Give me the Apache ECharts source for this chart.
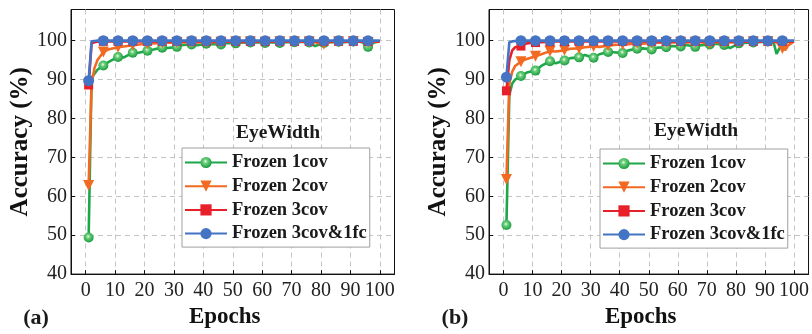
<!DOCTYPE html>
<html>
<head>
<meta charset="utf-8">
<script src="https://cdn.jsdelivr.net/npm/echarts@6/dist/echarts.min.js"></script>
<style>html,body{margin:0;padding:0;background:#fff}#c{width:812px;height:334px}</style>
</head>
<body>
<div id="c"></div>
<script>
const seriesNames = ['Frozen 1cov', 'Frozen 2cov', 'Frozen 3cov', 'Frozen 3cov&1fc'];
const xTicks = [0, 10, 20, 30, 40, 50, 60, 70, 80, 90, 100];
const yTicks = [40, 50, 60, 70, 80, 90, 100];
const panelLabels = ['(a)', '(b)'];
const legendTitle = 'EyeWidth';

const epochs = [1,2,3,4,6,8,11,13,16,18,21,23,26,28,31,33,36,38,41,43,46,48,51,53,56,58,61,63,66,68,71,73,76,78,81,83,86,88,91,93,94,96,97,98,100];

const aGreen = [49.4,90.5,91.5,92.5,93.6,94.6,95.8,95.7,96.9,96.9,97.4,97.7,98.2,98.1,98.4,98.9,99.0,98.8,99.2,99.1,99.0,99.4,99.3,99.5,99.5,99.6,99.4,99.6,99.4,99.6,99.6,99.7,99.5,98.6,99.4,99.6,99.7,99.6,99.8,99.7,99.6,98.4,98.9,99.5,99.8];
const aOrange = [62.8,89.0,93.0,95.0,97.1,97.8,98.3,98.5,98.8,99.0,99.2,99.3,99.4,99.5,99.5,99.6,99.6,99.5,99.6,99.6,99.6,99.7,99.7,99.6,99.7,99.7,99.6,99.7,99.7,99.7,99.7,99.7,99.7,99.6,99.1,99.6,99.7,99.7,99.8,99.7,99.7,99.5,99.6,99.7,99.8];
const aRed = [88.6,99.3,99.6,99.7,99.8,99.8,99.8,99.8,99.8,99.8,99.8,99.8,99.8,99.8,99.8,99.8,99.8,99.8,99.8,99.8,99.8,99.8,99.8,99.8,99.8,99.8,99.8,99.8,99.8,99.8,99.8,99.8,99.8,99.8,99.8,99.8,99.8,99.8,99.8,99.8,99.8,99.8,99.8,99.8,99.8];
const aBlue = [89.7,99.8,99.9,100,100,100,100,100,100,100,100,100,100,100,100,100,100,100,100,100,100,100,100,100,100,100,100,100,100,100,100,100,100,100,100,100,100,100,100,100,100,100,100,100,100];

const bGreen = [52.6,86.0,89.0,90.0,90.9,91.8,92.3,93.5,94.7,94.2,94.9,95.5,95.7,96.3,95.6,96.5,97.1,97.0,96.8,97.5,97.9,98.0,97.7,98.2,98.3,98.6,98.5,98.9,98.4,98.8,99.0,99.2,98.9,98.1,99.3,99.4,99.5,99.6,99.8,99.5,96.6,99.5,99.6,99.7,99.8];
const bOrange = [64.3,89.0,92.0,93.5,94.6,95.3,96.0,96.5,97.3,97.2,97.5,97.9,98.0,98.3,98.5,98.4,98.7,98.9,99.0,99.1,99.3,99.2,99.4,99.5,99.5,99.5,99.6,99.5,99.6,99.6,99.2,99.6,99.6,99.5,99.6,99.7,99.7,99.7,99.8,99.7,99.6,98.0,97.6,98.8,99.8];
const bRed = [87.1,95.0,97.5,98.3,98.6,99.3,99.5,99.6,99.7,99.8,99.8,99.8,99.8,99.8,99.8,99.8,99.8,99.8,99.8,99.8,99.8,99.8,99.8,99.8,99.8,99.8,99.8,99.8,99.8,99.8,99.8,99.8,99.8,99.8,99.8,99.8,99.8,99.8,99.8,99.8,99.8,99.8,99.8,99.8,99.8];
const bBlue = [90.6,99.6,99.8,99.9,100,100,100,100,100,100,100,100,100,100,100,100,100,100,100,100,100,100,100,100,100,100,100,100,100,100,100,100,100,100,100,100,100,100,100,100,100,100,100,100,100];

const FONT = "'Liberation Serif', 'Times New Roman', serif";
const COLORS = ['#1ea64a', '#f26a21', '#e8202a', '#4574c4'];
const greenFill = { type: 'radial', x: 0.45, y: 0.4, r: 0.6,
  colorStops: [{ offset: 0, color: '#f4fff4' }, { offset: 0.3, color: '#6fd07c' }, { offset: 1, color: '#169a3c' }] };
const symbols = ['circle', 'triangle', 'rect', 'circle'];
const symRot = [0, 180, 0, 0];
const symSizes = [10, 11, 9, 11];

const panels = [
  { left: 71, data: [aGreen, aOrange, aRed, aBlue], legendLeft: 182, legendTop: 148, titleX: 278, titleY: 133, labelX: 36, epochShift: 16 },
  { left: 489, data: [bGreen, bOrange, bRed, bBlue], legendLeft: 600, legendTop: 149, titleX: 696, titleY: 131, labelX: 455, epochShift: 16 }
];

const grid = [], xAxis = [], yAxis = [], series = [], legend = [], graphic = [];
panels.forEach((p, pi) => {
  grid.push({ left: p.left, top: 9.5, width: 323.5, height: 266, show: true, borderColor: '#111', borderWidth: 1, backgroundColor: 'transparent' });
  xAxis.push({
    type: 'value', gridIndex: pi, min: -5, max: 105,
    name: 'Epochs', nameLocation: 'middle', nameGap: 31,
    nameTextStyle: { fontFamily: FONT, fontWeight: 'bold', fontSize: 23, color: '#111', padding: [0, p.epochShift, 0, 0] },
    axisLine: { show: true, onZero: false, lineStyle: { color: '#111', width: 1 } },
    axisTick: { show: true, inside: true, length: 4, customValues: xTicks, lineStyle: { color: '#111' } },
    axisLabel: { customValues: xTicks, margin: 7, fontFamily: FONT, fontSize: 20, color: '#222' },
    splitLine: { show: true, lineStyle: { color: '#c4c4c4', type: [5, 4], width: 1 } }
  });
  yAxis.push({
    type: 'value', gridIndex: pi, min: 40, max: 108,
    name: 'Accuracy (%)', nameLocation: 'middle', nameGap: 37,
    nameTextStyle: { fontFamily: FONT, fontWeight: 'bold', fontSize: 25, color: '#111' },
    axisLine: { show: true, onZero: false, lineStyle: { color: '#111', width: 1 } },
    axisTick: { show: true, inside: true, length: 4, customValues: yTicks, lineStyle: { color: '#111' } },
    axisLabel: { customValues: yTicks, margin: 4, fontFamily: FONT, fontSize: 20, color: '#222' },
    splitLine: { show: true, lineStyle: { color: '#c4c4c4', type: [5, 4], width: 1 } }
  });
  p.data.forEach((arr, si) => {
    series.push({
      type: 'line', name: seriesNames[si], xAxisIndex: pi, yAxisIndex: pi,
      data: epochs.map((e, i) => [e, arr[i]]),
      symbol: symbols[si], symbolRotate: symRot[si], showAllSymbol: true,
      symbolSize: (v) => ((v[0] % 5 === 1) ? symSizes[si] : 0),
      lineStyle: { color: COLORS[si], width: 2.6 },
      itemStyle: { color: si === 0 ? greenFill : COLORS[si], borderWidth: 0 },
      z: 2 + si, animation: false
    });
  });
  legend.push({
    left: p.legendLeft, top: p.legendTop, orient: 'vertical',
    padding: [5, 3, 4, 2], itemWidth: 42, itemHeight: 14, itemGap: 4.7,
    borderColor: '#a0a0a0', borderWidth: 1, backgroundColor: '#fff', borderRadius: 0,
    textStyle: { fontFamily: FONT, fontWeight: 'bold', fontSize: 18.5, color: '#1a1a1a', lineHeight: 18 },
    data: seriesNames
  });
  graphic.push({ type: 'text', x: p.titleX, y: p.titleY, z: 100,
    style: { text: legendTitle, font: "bold 19.5px " + FONT, fill: '#1a1a1a', textAlign: 'center', textVerticalAlign: 'middle' } });
  graphic.push({ type: 'text', x: p.labelX, y: 318, z: 100,
    style: { text: panelLabels[pi], font: "bold 22px " + FONT, fill: '#1a1a1a', textAlign: 'center', textVerticalAlign: 'middle' } });
});

const chart = echarts.init(document.getElementById('c'), null, { renderer: 'canvas' });
chart.setOption({ animation: false, backgroundColor: '#fff', grid, xAxis, yAxis, series, legend, graphic });
</script>
</body>
</html>
